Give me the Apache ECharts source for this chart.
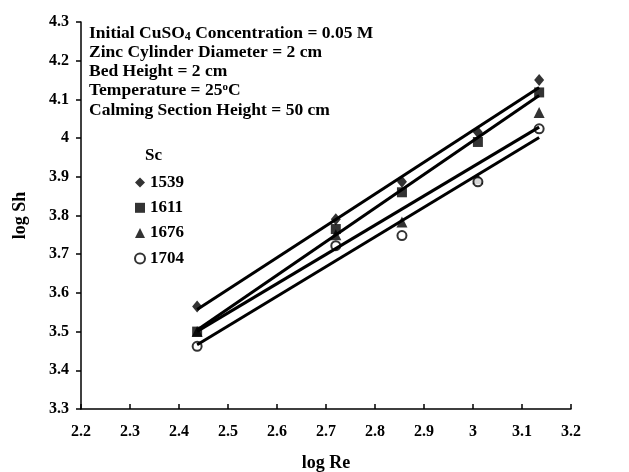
<!DOCTYPE html>
<html><head><meta charset="utf-8">
<script src="https://cdn.jsdelivr.net/npm/echarts@6/dist/echarts.min.js"></script>
<style>html,body{margin:0;padding:0;background:#fff}#c{width:629px;height:472px}</style>
</head><body><div id="c"></div>
<script>
// ---- data ----
const logRe   = [2.437, 2.720, 2.855, 3.010, 3.135];
const sh1539  = [3.565, 3.790, 3.887, 4.015, 4.150];
const sh1611  = [3.500, 3.765, 3.860, 3.990, 4.118];
const sh1676  = [3.500, 3.750, 3.783, 3.895, 4.066];
const sh1704  = [3.462, 3.722, 3.748, 3.887, 4.024];
const scNames = ['1539', '1611', '1676', '1704'];
const scSymbols = ['diamond', 'rect', 'triangle', 'emptyCircle'];
const annotation = [
  'Initial CuSO{sub|4} Concentration = 0.05 M',
  'Zinc Cylinder Diameter = 2 cm',
  'Bed Height = 2 cm',
  'Temperature = 25{sup|o}C',
  'Calming Section Height = 50 cm'
];
const legendTitle = 'Sc';

const FONT = '"Liberation Serif","Times New Roman",serif';
const allSh = [sh1539, sh1611, sh1676, sh1704];

function fitLine(xs, ys) {
  const n = xs.length;
  const mx = xs.reduce((a, b) => a + b, 0) / n;
  const my = ys.reduce((a, b) => a + b, 0) / n;
  let sxy = 0, sxx = 0;
  for (let i = 0; i < n; i++) { sxy += (xs[i] - mx) * (ys[i] - my); sxx += (xs[i] - mx) ** 2; }
  const b = sxy / sxx, a = my - b * mx;
  const x0 = Math.min(...xs), x1 = Math.max(...xs);
  return [[x0, a + b * x0], [x1, a + b * x1]];
}

const symSizes = { diamond: [10, 12], rect: 10, triangle: 11, emptyCircle: 9 };

const series = [];
allSh.forEach((ys, i) => {
  series.push({
    name: 'fit' + scNames[i], type: 'line', data: fitLine(logRe, ys),
    symbol: 'none', lineStyle: { color: '#000', width: 3 }, z: 5, silent: true
  });
});
allSh.forEach((ys, i) => {
  series.push({
    name: scNames[i], type: 'scatter', symbol: scSymbols[i], symbolSize: symSizes[scSymbols[i]],
    data: logRe.map((x, j) => [x, ys[j]]),
    itemStyle: scSymbols[i] === 'emptyCircle'
      ? { color: '#000', borderColor: '#000', borderWidth: 1.3 }
      : { color: '#000' },
    z: 3
  });
});

const chart = echarts.init(document.getElementById('c'), null, { renderer: 'canvas' });
chart.setOption({
  backgroundColor: '#fff',
  animation: false,
  grid: { left: 81, right: 58, top: 22, bottom: 63, containLabel: false, outerBoundsMode: 'none' },
  xAxis: {
    type: 'value', min: 2.2, max: 3.2, interval: 0.1,
    name: 'log Re', nameLocation: 'middle', nameGap: 45,
    nameTextStyle: { fontFamily: FONT, fontWeight: 'bold', fontSize: 18, color: '#000' },
    axisLine: { lineStyle: { color: '#000', width: 1.5 } },
    axisTick: { inside: true, length: 5, lineStyle: { color: '#000', width: 1.5 } },
    axisLabel: { fontFamily: FONT, fontWeight: 'bold', fontSize: 16, color: '#000', margin: 15 },
    splitLine: { show: false }
  },
  yAxis: {
    type: 'value', min: 3.3, max: 4.3, interval: 0.1,
    name: 'log Sh', nameLocation: 'middle', nameGap: 52, nameRotate: 90,
    nameTextStyle: { fontFamily: FONT, fontWeight: 'bold', fontSize: 18, color: '#000' },
    axisLine: { show: true, lineStyle: { color: '#000', width: 1.5 } },
    axisTick: { show: true, inside: false, length: 5, lineStyle: { color: '#000', width: 1.5 } },
    axisLabel: { fontFamily: FONT, fontWeight: 'bold', fontSize: 16, color: '#000', margin: 12 },
    splitLine: { show: false }
  },
  legend: {
    data: scNames, orient: 'vertical', left: 129, top: 169,
    itemWidth: 10, itemHeight: 10, itemGap: 8.3,
    textStyle: { fontFamily: FONT, fontWeight: 'bold', fontSize: 17, color: '#000' }
  },
  graphic: annotation.map((t, i) => ({
    type: 'text', left: 89, top: 24 + i * 19.3,
    style: {
      text: t, fill: '#000', font: 'bold 17.5px ' + FONT,
      rich: {
        sub: { fontSize: 12, fontWeight: 'bold', fontFamily: FONT, padding: [7, 0, 0, 0] },
        sup: { fontSize: 11, fontWeight: 'bold', fontFamily: FONT, padding: [0, 0, 7, 0] }
      }
    }
  })).concat([{
    type: 'text', left: 145, top: 147,
    style: { text: legendTitle, fill: '#000', font: 'bold 17px ' + FONT }
  }]),
  series: series
});
</script></body></html>
